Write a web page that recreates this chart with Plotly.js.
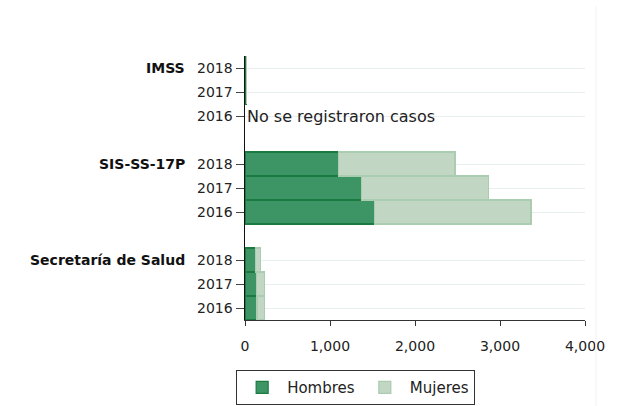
<!DOCTYPE html>
<html>
<head>
<meta charset="utf-8">
<script src="https://cdn.plot.ly/plotly-3.0.1.min.js"></script>
<style>html,body{margin:0;padding:0;background:#fff;}#chart{width:631px;height:406px;}</style>
</head>
<body>
<div id="chart"></div>
<script>
const groups = ["IMSS", "SIS-SS-17P", "Secretaría de Salud"];
const years = ["2018", "2017", "2016"];
const hombres = {
  "IMSS": [15, 15, null],
  "SIS-SS-17P": [1098, 1372, 1522],
  "Secretaría de Salud": [125, 137, 141]
};
const mujeres = {
  "IMSS": [0, 0, null],
  "SIS-SS-17P": [1372, 1491, 1843],
  "Secretaría de Salud": [59, 94, 86]
};
const noDataNote = "No se registraron casos";
const xTickVals = [0, 1000, 2000, 3000, 4000];

const FONT = "DejaVu Sans, sans-serif";
const keyOf = (g, y) => g + " | " + y;

const catOrder = [];
const tickVals = [];
const tickText = [];
groups.forEach((g, gi) => {
  years.forEach(y => { catOrder.push(keyOf(g, y)); tickVals.push(keyOf(g, y)); tickText.push(y); });
  if (gi < groups.length - 1) catOrder.push("gap" + gi);
});

const yKeys = [], hVals = [], mVals = [];
groups.forEach(g => years.forEach((y, i) => {
  yKeys.push(keyOf(g, y)); hVals.push(hombres[g][i]); mVals.push(mujeres[g][i]);
}));

const traces = [
  {type: "bar", orientation: "h", name: "Hombres", y: yKeys, x: hVals,
   marker: {color: "rgb(61,148,100)", line: {color: "rgb(26,122,64)", width: 1.2}}},
  {type: "bar", orientation: "h", name: "Mujeres", y: yKeys, x: mVals,
   marker: {color: "rgb(193,215,196)", line: {color: "rgb(170,204,176)", width: 1.2}}}
];

const annotations = groups.map(g => ({
  xref: "paper", yref: "y", x: 0, y: keyOf(g, years[0]), xshift: -58,
  xanchor: "right", yanchor: "middle", showarrow: false,
  text: "<b>" + g + "</b>", font: {family: FONT, size: 14, color: "#111"}
}));
groups.forEach(g => years.forEach((y, i) => {
  if (hombres[g][i] === null) {
    annotations.push({xref: "x", yref: "y", x: 0, y: keyOf(g, y), xanchor: "left", yanchor: "middle",
      xshift: 0, showarrow: false, text: noDataNote, font: {family: FONT, size: 16, color: "#222"}});
  }
}));

const layout = {
  width: 631, height: 406,
  margin: {l: 245, r: 46, t: 56, b: 86, autoexpand: false},
  paper_bgcolor: "#fff", plot_bgcolor: "#fff",
  barmode: "stack", bargap: 0,
  font: {family: FONT, size: 14, color: "#222"},
  showlegend: true,
  legend: {orientation: "h", x: -0.026, xanchor: "left", y: -0.19, yanchor: "top",
    bordercolor: "#333", borderwidth: 1, font: {family: FONT, size: 15, color: "#222"},
    traceorder: "normal", itemwidth: 40, tracegroupgap: 0},
  xaxis: {range: [0, 4000], tickvals: xTickVals, tickformat: ",d", showgrid: false, zeroline: false,
    showline: true, linecolor: "#333", linewidth: 1, ticks: "outside", ticklen: 5, tickcolor: "#333",
    ticklabelstandoff: 8,
    tickfont: {family: FONT, size: 14, color: "#222"}, fixedrange: true},
  yaxis: {type: "category", categoryorder: "array", categoryarray: catOrder,
    range: [catOrder.length - 0.5, -0.5], tickmode: "array", tickvals: tickVals, ticktext: tickText,
    showgrid: true, gridcolor: "#e8eff0", gridwidth: 1, zeroline: false,
    showline: true, linecolor: "#111", linewidth: 1.5, ticks: "outside", ticklen: 8, tickcolor: "#444",
    tickfont: {family: FONT, size: 14, color: "#222"}, fixedrange: true},
  annotations: annotations,
  shapes: [{type: "line", xref: "paper", yref: "paper", x0: 1.032, x1: 1.032, y0: 1.19, y1: -0.33,
    line: {color: "#f2f2f2", width: 1}}]
};

Plotly.newPlot("chart", traces, layout, {staticPlot: true, displayModeBar: false});
</script>
</body>
</html>
